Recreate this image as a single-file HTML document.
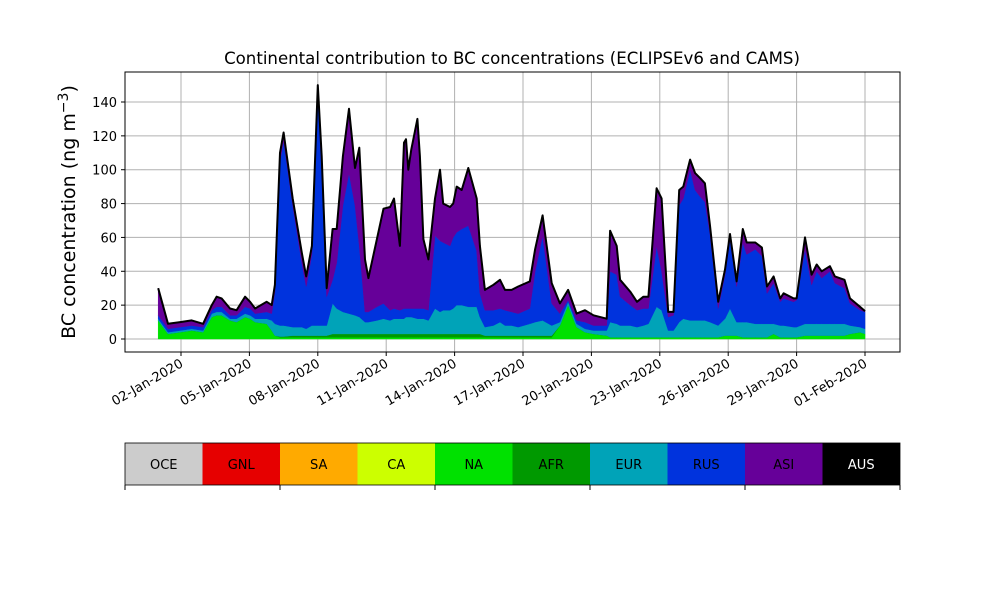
<!DOCTYPE html>
<html><head><meta charset="utf-8"><style>
body{margin:0;background:#fff;}
svg{font-family:"DejaVu Sans","Liberation Sans",sans-serif;}
</style></head><body>
<svg id="chart" width="1000" height="600" viewBox="0 0 1000 600" xmlns="http://www.w3.org/2000/svg">
<rect width="1000" height="600" fill="#fff"/>
<text x="512" y="64" text-anchor="middle" font-size="16.6">Continental contribution to BC concentrations (ECLIPSEv6 and CAMS)</text>
<text transform="translate(75,212) rotate(-90)" text-anchor="middle" font-size="19">BC concentration (ng m<tspan dy="-7" font-size="14">−3</tspan><tspan dy="7">)</tspan></text>
<g id="grid"></g><g id="areas"></g><g id="line"></g><g id="axes"></g><g id="legend"></g>
</svg>
<script>
const days=[0,0.43,0.96,1.47,1.97,2.35,2.56,2.78,3.15,3.44,3.81,4.03,4.25,4.76,4.98,5.12,5.34,5.5,5.9,6.3,6.49,6.74,7.0,7.17,7.39,7.65,7.83,8.1,8.37,8.63,8.82,9.07,9.22,9.59,9.88,10.17,10.34,10.6,10.78,10.87,10.97,11.1,11.37,11.48,11.63,11.85,12.14,12.36,12.5,12.8,12.94,13.09,13.31,13.6,13.97,14.11,14.33,14.7,14.99,15.21,15.5,15.79,16.3,16.53,16.86,17.26,17.62,17.98,18.35,18.72,19.09,19.67,19.82,20.11,20.26,20.7,21.0,21.28,21.5,21.86,22.08,22.37,22.6,22.85,23.03,23.33,23.55,23.77,23.98,24.2,24.56,24.86,25.08,25.37,25.64,25.81,26.19,26.48,26.7,26.99,27.28,27.43,27.87,28.0,28.37,28.66,28.88,29.1,29.46,29.68,30.1,30.34,30.78,31.0];
const naVals=[11,3,4,5,4,13,14,14,11,10,13,12,10,9,5,2,1,1,1,1,1,1,1,1,1,1,1,1,1,1,1,1,1,1,1,1,1,1,1,1,1,1,1,1,1,1,1,1,1,1,1,1,1,1,1,1,1,1,1,1,1,1,1,1,1,1,8,20,7,4,3,2,1,1,1,1,1,1,1,1,1,1,1,1,1,1,1,1,1,1,1,2,2,2,1,1,1,1,1,3,1,1,1,1,2,2,2,2,2,2,2,3,4,3];
const afrVals=[0,0,0,0,0,0,0,0,0,0,0,0,0,0,0,0,0.5,0.5,1,1,1,1,1,1,1,2,2,2,2,2,2,2,2,2,2,2,2,2,2,2,2,2,2,2,2,2,2,2,2,2,2,2,2,2,2,2,1,1,1,1,1,1,1,1,1,1,0,0,0,0,0,0,0,0,0,0,0,0,0,0,0,0,0,0,0,0,0,0,0,0,0,0,0,0,0,0,0,0,0,0,0,0,0,0,0,0,0,0,0,0,0,0,0,0];
const eurVals=[1,1,1,1,1,2,2,2,1,2,2,2,2,3,6,7,6.5,6.5,5,5,4,6,6,6,6,18,15,13,12,11,10,7,7,8,9,8,9,9,9,10,10,10,9,9,9,8,15,13,14,14,15,17,17,16,16,10,5,6,8,6,6,5,7,8,9,6,2,2,2,2,2,3,9,8,7,7,6,7,8,18,16,4,4,9,11,10,10,10,10,9,7,10,16,8,9,9,8,8,8,6,7,7,6,6,7,7,7,7,7,7,7,5,3,3];
const rusVals=[2,2,2,2,2,2,3,3,2,2,4,4,3,4,4,19,97,109,72,38,25,42,137,92,17,14,27,63,83,65,42,6,6,8,9,6,6,5,6,5,5,5,6,6,6,6,43,42,40,38,42,43,45,48,33,14,10,9,8,9,8,8,9,30,50,13,5,1,2,4,3,3,30,29,17,12,10,10,9,36,23,8,9,69,71,89,77,73,70,52,10,26,41,21,47,40,44,40,18,24,14,16,15,16,44,23,31,27,31,24,21,13,10,10];
const asiVals=[16,3,3,3,2,3,6,5,4,3,6,4,3,6,5,4,5,5,4,6,6,5,5,8,5,30,20,29,38,22,58,31,20,40,56,61,65,38,98,100,82,94,112,90,41,30,22,42,23,23,20,27,23,34,31,28,12,15,17,12,13,16,16,13,12,12,6,6,4,7,6,4,24,17,10,8,5,7,7,34,43,3,2,9,7,6,10,11,11,5,4,3,3,3,8,7,4,5,4,4,2,3,2,1,7,6,4,4,3,4,5,3,2,0.5];
const yTicks=[0,20,40,60,80,100,120,140];
const xTickDays=[1,4,7,10,13,16,19,22,25,28,31];
const xTickLabels=["02-Jan-2020","05-Jan-2020","08-Jan-2020","11-Jan-2020","14-Jan-2020","17-Jan-2020","20-Jan-2020","23-Jan-2020","26-Jan-2020","29-Jan-2020","01-Feb-2020"];
const legendLabels=["OCE","GNL","SA","CA","NA","AFR","EUR","RUS","ASI","AUS"];
const legendColors=["#cccccc","#e60000","#ffaa00","#ccff00","#00e100","#009900","#00a3b8","#0033dd","#660099","#000000"];

const NS="http://www.w3.org/2000/svg";
const L=125,R=900,T=72,B=352;
const X=d=>158.2+d*(865-158.2)/31;
const Y=v=>339-v*(339-102)/140;
function mk(tag,parent,attrs){const e=document.createElementNS(NS,tag);for(const k in attrs)e.setAttribute(k,attrs[k]);document.getElementById(parent).appendChild(e);return e;}

yTicks.forEach(v=>{const e=mk('line','grid',{x1:L,x2:R,y1:Y(v),y2:Y(v),stroke:'#b0b0b0','stroke-width':1});

});
xTickDays.forEach(d=>{const e=mk('line','grid',{x1:X(d),x2:X(d),y1:T,y2:B,stroke:'#b0b0b0','stroke-width':1});

});

const series=[[naVals,'#00e100','area-na'],[afrVals,'#009900','area-afr'],[eurVals,'#00a3b8','area-eur'],[rusVals,'#0033dd','area-rus'],[asiVals,'#660099','area-asi']];
let base=days.map(()=>0);
series.forEach(([vals,col,name])=>{
  const top=base.map((b,i)=>b+vals[i]);
  let d='M'+days.map((t,i)=>X(t).toFixed(1)+','+Y(top[i]).toFixed(1)).join('L');
  for(let i=days.length-1;i>=0;i--)d+='L'+X(days[i]).toFixed(1)+','+Y(base[i]).toFixed(1);
  const e=mk('path','areas',{d:d+'Z',fill:col,stroke:col,'stroke-width':0.5});
  
  
  base=top;
});
const tl=mk('path','line',{d:'M'+days.map((t,i)=>X(t).toFixed(1)+','+Y(base[i]).toFixed(1)).join('L'),fill:'none',stroke:'#000','stroke-width':2,'stroke-linejoin':'round'});



const fr=mk('rect','axes',{x:L,y:T,width:R-L,height:B-T,fill:'none',stroke:'#000','stroke-width':1});


yTicks.forEach(v=>{mk('line','axes',{x1:L-4,x2:L,y1:Y(v),y2:Y(v),stroke:'#000'});
const t=mk('text','axes',{x:L-8,y:Y(v)+5,'text-anchor':'end','font-size':13});t.textContent=v;

});
xTickDays.forEach((d,i)=>{mk('line','axes',{x1:X(d),x2:X(d),y1:B,y2:B+4,stroke:'#000'});
const t=mk('text','axes',{transform:`translate(${X(d)+3},${B+14}) rotate(-30)`,'text-anchor':'end','font-size':13});t.textContent=xTickLabels[i];

});

const w=(R-L)/legendLabels.length;
legendLabels.forEach((lab,i)=>{
  const r=mk('rect','legend',{x:L+i*w,y:443,width:w,height:42,fill:legendColors[i]});
  
  
  const t=mk('text','legend',{x:L+i*w+w/2,y:469,'text-anchor':'middle','font-size':13,fill:lab==='AUS'?'#fff':'#000'});
  t.textContent=lab;
  
  
});
const lf=mk('rect','legend',{x:L,y:443,width:R-L,height:42,fill:'none',stroke:'#000','stroke-width':0.8});


for(let k=0;k<=5;k++)mk('line','legend',{x1:L+k*2*w,x2:L+k*2*w,y1:485,y2:490,stroke:'#000'});
</script>
</body></html>
